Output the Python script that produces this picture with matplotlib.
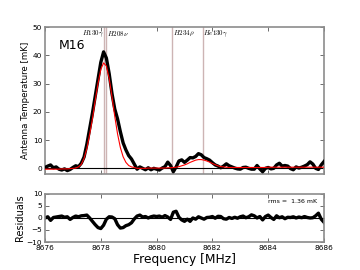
import matplotlib
matplotlib.use('Agg')
import matplotlib.pyplot as plt
import numpy as np

plt.rcParams['mathtext.fontset'] = 'cm'

# frequency grid of the spectrum (MHz)
freq = np.linspace(8676.0, 8686.0, 101)

# observed spectrum [mK]
spectrum = [
    0.3, 0.8, 1.2, 0.2, 0.5, -0.3, -0.6, -0.2, -0.8, -0.4,
    0.3, 0.9, 0.6, 1.8, 4.0, 8.5, 14.0, 19.5, 25.5, 31.5,
    37.5, 41.2, 39.0, 33.5, 26.5, 21.0, 17.5, 13.0, 9.0, 6.5,
    4.5, 3.3, 1.5, -0.3, 0.5, 0.0, -0.5, 0.2, -0.5, 0.0,
    -0.3, -0.6, 0.1, 0.6, 2.2, 1.0, -1.2, 0.5, 2.6, 3.0,
    2.1, 2.9, 3.8, 3.7, 4.2, 5.2, 4.8, 3.8, 3.4, 2.9,
    2.0, 1.2, 0.8, 0.2, 0.8, 1.6, 0.9, 0.5, 0.1, -0.2,
    -0.3, 0.3, 0.4, 0.0, -0.3, -0.3, 1.0, -0.2, -1.2, 0.0,
    0.3, -0.2, 0.0, 1.2, 1.8, 0.8, 1.0, 0.8, -0.1, -0.5,
    0.5, 0.1, 0.4, 0.8, 1.3, 2.3, 1.5, 0.0, -0.4, 1.2,
    2.4,
]

# fitted model [mK]
model = [
    -0.3, -0.3, -0.3, -0.3, -0.3, -0.3, -0.2, -0.2, -0.2, -0.1,
    0.0, 0.1, 0.5, 1.4, 3.5, 7.0, 12.0, 17.5, 24.0, 30.0,
    35.0, 37.3, 36.2, 31.8, 25.4, 18.4, 12.2, 7.4, 4.1, 2.1,
    1.0, 0.5, 0.3, 0.0, 0.0, 0.0, 0.0, 0.1, 0.1, 0.1,
    0.1, 0.1, 0.1, 0.1, 0.2, 0.2, 0.3, 0.4, 0.6, 0.9,
    1.2, 1.6, 2.1, 2.5, 2.9, 3.1, 3.1, 2.9, 2.6, 2.2,
    1.7, 1.3, 0.9, 0.6, 0.5, 0.4, 0.3, 0.3, 0.3, 0.3,
    0.3, 0.3, 0.3, 0.3, 0.3, 0.3, 0.3, 0.3, 0.3, 0.3,
    0.4, 0.4, 0.4, 0.4, 0.4, 0.4, 0.4, 0.4, 0.4, 0.4,
    0.4, 0.4, 0.4, 0.4, 0.4, 0.4, 0.4, 0.4, 0.4, 0.4,
    0.4,
]

# residuals [mK]
residuals = [
    0.0, 0.5, -1.0, 0.2, 0.4, 0.6, 0.8, 0.3, 0.5, -0.6,
    0.2, 0.8, 0.5, 0.9, 1.0, 1.2, 0.0, -1.4, -2.8, -4.0,
    -4.4, -3.0, -0.5, 0.5, 0.4, -0.3, -2.8, -4.2, -4.0, -3.2,
    -2.8, -2.0, -0.4, 0.8, 1.2, 0.4, 0.6, 0.0, 0.5, 0.8,
    0.6, 0.8, 0.3, 1.0, 0.4, -0.6, 2.4, 2.8, 0.3, -0.8,
    -1.4, -0.5, -1.4, 0.0, -0.5, 0.5, 0.0, -0.5, 0.2, 0.3,
    0.6, -0.1, 0.7, 0.6, -0.3, -0.5, 0.2, -0.2, 0.3, -0.1,
    0.5, 0.8, 0.1, 0.5, 1.3, 0.9, 0.0, 0.6, -0.8, 0.6,
    1.2, 0.2, -0.6, 0.9, 0.1, 0.5, -0.3, 0.3, 0.2, 0.5,
    0.0, 0.4, 0.1, 0.6, 0.2, 0.0, 0.1, 0.9, 2.0, -0.5,
    -1.8,
]

# recombination lines
line_freqs = [8678.12, 8678.20, 8680.56, 8681.65]
line_names = [r'$H130\gamma$', r'$H208\nu$', r'$H234\rho$', r'$He130\gamma$']
line_align = ['right', 'left', 'left', 'left']

source = 'M16'
rms = 1.36


def style_axes(ax):
    for s in ax.spines.values():
        s.set_color('#8c8c8c')
        s.set_linewidth(1.2)
    ax.tick_params(direction='in', top=True, right=True, length=3,
                   width=0.6, labelsize=5.3, pad=2, color='#555555')


fig = plt.figure(figsize=(3.6, 2.7), dpi=100)
ax1 = fig.add_axes([0.125, 0.3556, 0.775, 0.5444])
ax2 = fig.add_axes([0.125, 0.1037, 0.775, 0.178])

for f, name, ha in zip(line_freqs, line_names, line_align):
    ax1.axvline(f, color='#b89494', alpha=0.7, linewidth=1.0, zorder=1)
    off = -0.02 if ha == 'right' else 0.02
    ax1.text(f + off, 49.3, name, ha=ha, va='top', fontsize=5, zorder=5)

ax1.axhline(0, color='black', linewidth=0.8, zorder=2)
ax1.plot(freq, spectrum, color='black', linewidth=2.4, zorder=3)
ax1.plot(freq, model, color='red', linewidth=0.8, zorder=4)
ax1.text(0.05, 0.85, source, transform=ax1.transAxes, fontsize=9)
ax1.set_xlim(8676, 8686)
ax1.set_ylim(-2, 50)
ax1.set_xticks(np.arange(8676, 8687, 2))
ax1.set_xticklabels([])
ax1.set_yticks(np.arange(0, 51, 10))
ax1.set_ylabel('Antenna Temperature [mK]', fontsize=6.2, labelpad=2)
style_axes(ax1)

ax2.axhline(0, color='black', linewidth=0.8)
ax2.plot(freq, residuals, color='black', linewidth=2.4)
ax2.set_xlim(8676, 8686)
ax2.set_ylim(-10, 10)
ax2.set_xticks(np.arange(8676, 8687, 2))
ax2.set_yticks([-10, -5, 0, 5, 10])
ax2.set_xlabel('Frequency [MHz]', fontsize=8.8, labelpad=1.5)
ax2.set_ylabel('Residuals', fontsize=7, labelpad=1)
ax2.text(0.975, 0.85, 'rms =  %.2f mK' % rms, transform=ax2.transAxes,
         ha='right', va='center', fontsize=4.5)
style_axes(ax2)

fig.savefig('out.png', dpi=100)
